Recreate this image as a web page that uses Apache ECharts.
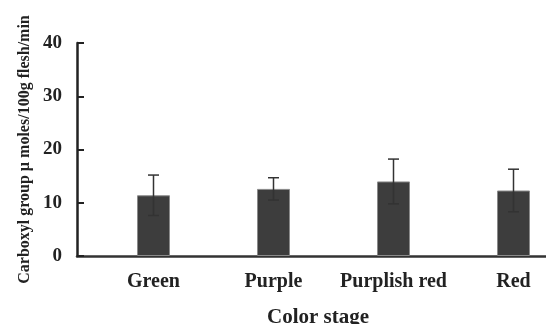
<!DOCTYPE html>
<html><head><meta charset="utf-8">
<script src="https://cdn.jsdelivr.net/npm/echarts@6/dist/echarts.min.js"></script>
<style>html,body{margin:0;padding:0;background:#fff}#c{width:546px;height:324px}</style>
</head><body><div id="c"></div>
<script>
const categories = ['Green', 'Purple', 'Purplish red', 'Red'];
const means = [11.4, 12.6, 14.0, 12.3];
const errors = [3.8, 2.1, 4.2, 4.0];
const yTicks = [0, 10, 20, 30, 40];

const font = '"Liberation Serif", "Times New Roman", serif';
const chart = echarts.init(document.getElementById('c'));
const errData = categories.map((c, i) => [i, means[i] - errors[i], means[i] + errors[i]]);
chart.setOption({
  animation: false,
  grid: [
    {left: 93.5, width: 480, top: 43, height: 213, containLabel: false, outerBoundsMode: 'none'},
    {left: 77, right: 0, top: 43, height: 213, containLabel: false, outerBoundsMode: 'none'}
  ],
  xAxis: [
    {type: 'category', data: categories, gridIndex: 0,
     axisLine: {show: false}, axisTick: {show: false},
     axisLabel: {interval: 0, fontFamily: font, fontWeight: 'bold', fontSize: 20, color: '#222', margin: 16}
    },
    {type: 'value', gridIndex: 1, min: 0, max: 1,
     axisLine: {show: true, lineStyle: {color: '#333', width: 2.5}}, axisTick: {show: false},
     axisLabel: {show: false}, splitLine: {show: false},
     name: 'Color stage', nameLocation: 'middle', nameGap: 51, nameMoveOverlap: false,
     nameTextStyle: {fontFamily: font, fontWeight: 'bold', fontSize: 21, color: '#222', padding: [0, 0, 0, 13]}
    }
  ],
  yAxis: [
    {type: 'value', gridIndex: 0, min: yTicks[0], max: yTicks[yTicks.length - 1], interval: 10, offset: 16.5,
     axisLine: {show: true, lineStyle: {color: '#222', width: 2.5}},
     axisTick: {show: true, inside: true, length: 7, lineStyle: {color: '#222', width: 2}},
     axisLabel: {fontFamily: font, fontWeight: 'bold', fontSize: 19, color: '#222', margin: 15},
     splitLine: {show: false},
     name: 'Carboxyl group \u00b5 moles/100g flesh/min', nameLocation: 'middle', nameGap: 44, nameMoveOverlap: false,
     nameTextStyle: {fontFamily: font, fontWeight: 'bold', fontSize: 16, color: '#222', padding: [0, 0, 0, 0]}
    },
    {type: 'value', gridIndex: 1, min: 0, max: 40, show: false}
  ],
  series: [
    {type: 'bar', xAxisIndex: 0, yAxisIndex: 0, data: means, barWidth: 33,
     itemStyle: {color: '#3d3d3d', borderColor: '#8a8a8a', borderWidth: 1}},
    {type: 'custom', xAxisIndex: 0, yAxisIndex: 0, data: errData, z: 10,
     renderItem: function (params, api) {
       const x = api.value(0);
       const lo = api.coord([x, api.value(1)]);
       const hi = api.coord([x, api.value(2)]);
       const hw = 5.5;
       const st = {stroke: '#333', lineWidth: 1.5};
       return {type: 'group', children: [
         {type: 'line', shape: {x1: hi[0], y1: hi[1], x2: lo[0], y2: lo[1]}, style: st},
         {type: 'line', shape: {x1: hi[0] - hw, y1: hi[1], x2: hi[0] + hw, y2: hi[1]}, style: st},
         {type: 'line', shape: {x1: lo[0] - hw, y1: lo[1], x2: lo[0] + hw, y2: lo[1]}, style: st}
       ]};
     }}
  ]
});
</script></body></html>
